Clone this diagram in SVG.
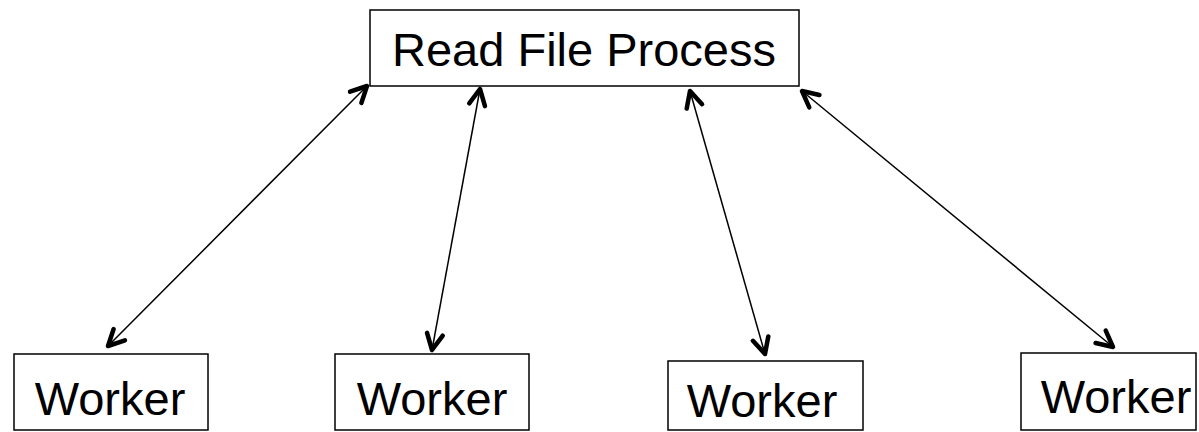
<svg xmlns="http://www.w3.org/2000/svg" width="1199" height="432" viewBox="0 0 1199 432">
  <style>
    .box { fill: #ffffff; stroke: #000000; stroke-width: 1.5; }
    .label { font-family: "Liberation Sans", Arial, sans-serif; font-size: 47px; fill: #000000; text-anchor: middle; }
    .link { stroke: #000000; stroke-width: 1.5; fill: none; marker-start: url(#head); marker-end: url(#head); }
  </style>
  <defs>
    <marker id="head" viewBox="-22 -12 26 24" refX="0" refY="0" markerWidth="26" markerHeight="24" markerUnits="userSpaceOnUse" orient="auto-start-reverse">
      <path d="M -16 -8 L 0 0 L -16 8" fill="none" stroke="#000000" stroke-width="4.5" stroke-linecap="round" stroke-linejoin="round"/>
    </marker>
  </defs>

  <!-- two-way links between the reader and each worker -->
  <g id="connectors">
    <line class="link" x1="367" y1="86" x2="108" y2="346"/>
    <line class="link" x1="480" y1="89" x2="432" y2="350"/>
    <line class="link" x1="690" y1="91" x2="765" y2="354"/>
    <line class="link" x1="802" y1="91" x2="1113" y2="347"/>
  </g>

  <g id="reader">
    <rect class="box" x="370" y="10" width="429" height="76"/>
    <text class="label" x="584" y="66">Read File Process</text>
  </g>

  <g id="worker1">
    <rect class="box" x="14" y="354" width="194" height="76"/>
    <text class="label" x="110" y="415">Worker</text>
  </g>

  <g id="worker2">
    <rect class="box" x="335" y="354" width="194" height="76"/>
    <text class="label" x="432" y="415">Worker</text>
  </g>

  <g id="worker3">
    <rect class="box" x="668" y="361" width="195" height="69"/>
    <text class="label" x="762" y="417">Worker</text>
  </g>

  <g id="worker4">
    <rect class="box" x="1021" y="353" width="175" height="77"/>
    <text class="label" x="1116" y="413">Worker</text>
  </g>
</svg>
